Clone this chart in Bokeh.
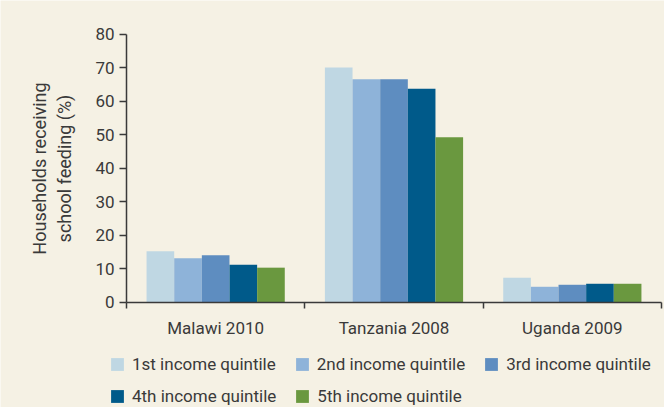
import numpy as np
from bokeh.plotting import figure
from bokeh.models import ColumnDataSource, Range1d, FixedTicker, Legend, LegendItem
from bokeh.transform import dodge
from bokeh.embed import file_html
from bokeh.resources import INLINE

categories = ["Malawi 2010", "Tanzania 2008", "Uganda 2009"]
series_names = ["1st income quintile", "2nd income quintile", "3rd income quintile",
                "4th income quintile", "5th income quintile"]
q1 = [15.2, 70.0, 7.3]
q2 = [13.1, 66.5, 4.6]
q3 = [14.0, 66.5, 5.2]
q4 = [11.2, 63.7, 5.5]
q5 = [10.3, 49.2, 5.5]
y_ticks = [0, 10, 20, 30, 40, 50, 60, 70, 80]
colors = ["#BFD7E3", "#8EB3D9", "#5E8DC0", "#005A8A", "#6A983F"]

BG = "#F5F1E4"
TXT = "#3a3a3a"
FONT = "Roboto"
W, H = 664, 407

n = len(categories)
centers = list(np.arange(n) + 0.5)
src = ColumnDataSource(dict(x=centers, q1=q1, q2=q2, q3=q3, q4=q4, q5=q5))

# frame covers the whole figure; axes are pinned at data 0 so the legend can sit
# below the bars without being clipped
px_x = 178.33   # pixels per category
px_y = 3.3525   # pixels per percentage point
x_range = Range1d(-126 / px_x, n + (W - 661) / px_x)
y_range = Range1d(-(H - 301.7) / px_y, 80 + 33.5 / px_y)

p = figure(width=W, height=H, output_backend="svg", toolbar_location=None,
           x_range=x_range, y_range=y_range,
           min_border_left=0, min_border_right=0, min_border_top=0, min_border_bottom=0)
p.background_fill_color = BG
p.border_fill_color = BG
p.outline_line_color = None
p.xgrid.visible = False
p.ygrid.visible = False

bw = 0.155
offsets = [-2 * bw, -bw, 0, bw, 2 * bw]
fields = ["q1", "q2", "q3", "q4", "q5"]
items = []
for f, off, c, name in zip(fields, offsets, colors, series_names):
    r = p.vbar(x=dodge("x", off, range=p.x_range), top=f, width=bw, bottom=0,
               source=src, fill_color=c, line_color=None)
    items.append(LegendItem(label=name, renderers=[r]))

# x axis: ticks at category boundaries, labels at centers
xa = p.xaxis[0]
xa.fixed_location = 0
xa.bounds = (0, n)
xa.ticker = FixedTicker(ticks=centers, minor_ticks=list(range(n + 1)))
xa.major_label_overrides = {float(c): cat for c, cat in zip(centers, categories)}
xa.major_tick_out = 0
xa.major_tick_in = 0
xa.minor_tick_out = 6
xa.minor_tick_in = 0
xa.minor_tick_line_color = TXT
xa.minor_tick_line_width = 1.5
xa.axis_line_color = TXT
xa.axis_line_width = 1.5
xa.major_label_text_font = FONT
xa.major_label_text_font_size = "17px"
xa.major_label_text_color = TXT
xa.major_label_standoff = 10

ya = p.yaxis[0]
ya.fixed_location = 0
ya.bounds = (0, 80)
ya.ticker = FixedTicker(ticks=y_ticks)
ya.minor_tick_line_color = None
ya.major_tick_out = 7
ya.major_tick_in = 0
ya.major_tick_line_color = TXT
ya.major_tick_line_width = 1.5
ya.axis_line_color = TXT
ya.axis_line_width = 1.5
ya.major_label_text_font = FONT
ya.major_label_text_font_size = "17px"
ya.major_label_text_color = TXT
ya.major_label_standoff = 5
ya.axis_label = "Households receiving\nschool feeding (%)"
ya.axis_label_text_font = FONT
ya.axis_label_text_font_size = "18px"
ya.axis_label_text_font_style = "normal"
ya.axis_label_text_color = TXT
ya.axis_label_standoff = 17

common = dict(orientation="horizontal",
              background_fill_alpha=0, border_line_color=None,
              label_text_font=FONT, label_text_font_size="17px", label_text_color=TXT,
              glyph_width=16, glyph_height=16, label_standoff=7,
              spacing=18, padding=0, margin=0)
legend1 = Legend(items=items[:3], location=(109, H - 374), **common)
legend2 = Legend(items=items[3:], location=(109, H - 406), **common)
p.add_layout(legend1, "center")
p.add_layout(legend2, "center")

open("out.html", "w").write(file_html(p, INLINE))
